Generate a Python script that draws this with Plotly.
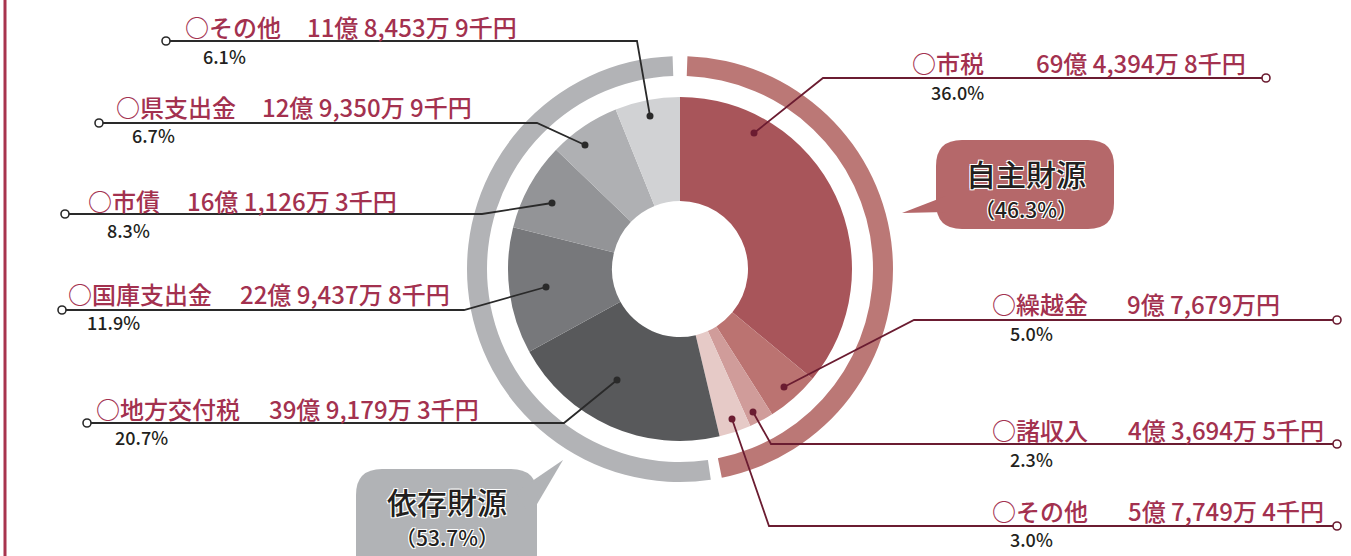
import plotly.graph_objects as go

# ---------------- data ----------------
own_names = ["市税", "繰越金", "諸収入", "その他"]
own_amounts = [6943948, 976790, 436945, 577494]          # 千円
own_pcts = [36.0, 5.0, 2.3, 3.0]
dep_names = ["地方交付税", "国庫支出金", "市債", "県支出金", "その他"]
dep_amounts = [3991793, 2294378, 1611263, 1293509, 1184539]  # 千円
dep_pcts = [20.7, 11.9, 8.3, 6.7, 6.1]
group_names = ["自主財源", "依存財源"]
group_pcts = [46.3, 53.7]

# ---------------- style ----------------
W, H = 1351, 556
FONT = "Noto Sans CJK JP"
own_colors = ["#A8555A", "#BB7371", "#D09C9A", "#E6CAC7"]
dep_colors = ["#58595B", "#77787B", "#939497", "#AFB0B3", "#D1D2D4"]
ring_colors = ["#BB7876", "#B2B3B6"]
bubble_colors = ["#B5686A", "#B1B3B6"]
label_color = "#A3314F"
pct_color = "#231F20"
line_colors = ["#6B1C31", "#2A2A2A"]

CX, CY = 680, 269          # centre in pixels (y from top)
R_IN, R_HOLE = 172, 68
R_RING, R_RING_IN = 213, 193
GAP_TOP, GAP_BOT = 4.0, 3.0

# label placement (pixel layout): name_x, amount_right_x, text_y, pct_x, pct_y,
# end circle, bend point, dot
own_layout = [
    (911, 1247, 62, 930, 92, (1266, 78), (823, 78), (754, 133)),
    (991, 1281, 303, 1009, 333, (1337, 320), (914, 320), (784, 387)),
    (991, 1325, 429, 1009, 459, (1337, 444), (771, 444), (753, 412)),
    (991, 1325, 510, 1009, 539, (1337, 526), (769, 526), (732, 419)),
]
dep_layout = [
    (95, 480, 408, 114, 437, (87, 423), (564, 423), (617, 380)),
    (67, 451, 293, 86, 322, (62, 310), (464, 310), (546, 287)),
    (87, 398, 200, 106, 230, (65, 214), (482, 214), (552, 203)),
    (115, 473, 106, 131, 135, (99, 123), (537, 123), (585, 145)),
    (184, 518, 26, 202, 56, (166, 41), (637, 41), (650, 116)),
]


def fmt_amount(v):
    oku, rest = divmod(v, 100000)
    man, sen = divmod(rest, 10)
    s = f"{oku}億 {man:,}万"
    s += f" {sen}千円" if sen else "円"
    return s


def domain(r):
    return dict(x=[(CX - r) / W, (CX + r) / W],
                y=[(H - CY - r) / H, (H - CY + r) / H])


fig = go.Figure()

# inner donut
all_names = own_names + dep_names
all_pcts = own_pcts + dep_pcts
fig.add_trace(go.Pie(
    labels=[f"{i}_{n}" for i, n in enumerate(all_names)],
    values=all_pcts,
    marker=dict(colors=own_colors + dep_colors, line=dict(width=0)),
    sort=False, direction="clockwise", rotation=0,
    hole=R_HOLE / R_IN, textinfo="none", hoverinfo="none",
    domain=domain(R_IN), showlegend=False,
))

# outer ring
red_span = group_pcts[0] / 100 * 360
gray_span = 360 - red_span - GAP_TOP - GAP_BOT
fig.add_trace(go.Pie(
    labels=["own", "gap1", "dep", "gap2"],
    values=[red_span, GAP_BOT, gray_span, GAP_TOP],
    marker=dict(colors=[ring_colors[0], "rgba(0,0,0,0)", ring_colors[1], "rgba(0,0,0,0)"],
                line=dict(width=0)),
    sort=False, direction="clockwise", rotation=GAP_TOP / 2,
    hole=R_RING_IN / R_RING, textinfo="none", hoverinfo="none",
    domain=domain(R_RING), showlegend=False,
))

shapes = []
annotations = []

# left decorative bar
shapes.append(dict(type="line", xref="x", yref="y", x0=5, x1=5, y0=0, y1=H,
                   line=dict(color="#A8344E", width=3), layer="above"))


def add_label(name, amount, pct, lay, lcolor):
    nx, ax, ty, px, py, end, bend, dot = lay
    shapes.append(dict(type="path", xref="x", yref="y", layer="above",
                       path=f"M{end[0]},{end[1]} L{bend[0]},{bend[1]} L{dot[0]},{dot[1]}",
                       line=dict(color=lcolor, width=1.8)))
    shapes.append(dict(type="circle", xref="x", yref="y", layer="above",
                       x0=end[0] - 4, x1=end[0] + 4, y0=end[1] - 4, y1=end[1] + 4,
                       fillcolor="white", line=dict(color=lcolor, width=1.6)))
    shapes.append(dict(type="circle", xref="x", yref="y", layer="above",
                       x0=dot[0] - 3.5, x1=dot[0] + 3.5, y0=dot[1] - 3.5, y1=dot[1] + 3.5,
                       fillcolor=lcolor, line=dict(color=lcolor, width=0)))
    annotations.append(dict(x=nx, y=ty, xref="x", yref="y", text="○" + name,
                            showarrow=False, xanchor="left", yanchor="middle", borderpad=0,
                            font=dict(family=FONT, size=24, color=label_color, weight=500)))
    annotations.append(dict(x=ax, y=ty, xref="x", yref="y", text=fmt_amount(amount),
                            showarrow=False, xanchor="right", yanchor="middle", borderpad=0,
                            font=dict(family=FONT, size=24, color=label_color, weight=500)))
    annotations.append(dict(x=px, y=py, xref="x", yref="y", text=f"{pct:.1f}%",
                            showarrow=False, xanchor="left", yanchor="middle", borderpad=0,
                            font=dict(family=FONT, size=18, color=pct_color, weight=500)))


for n, a, p, lay in zip(own_names, own_amounts, own_pcts, own_layout):
    add_label(n, a, p, lay, line_colors[0])
for n, a, p, lay in zip(dep_names, dep_amounts, dep_pcts, dep_layout):
    add_label(n, a, p, lay, line_colors[1])


def rounded_rect(x0, y0, x1, y1, r):
    return (f"M{x0 + r},{y0} L{x1 - r},{y0} Q{x1},{y0} {x1},{y0 + r} "
            f"L{x1},{y1 - r} Q{x1},{y1} {x1 - r},{y1} L{x0 + r},{y1} "
            f"Q{x0},{y1} {x0},{y1 - r} L{x0},{y0 + r} Q{x0},{y0} {x0 + r},{y0} Z")


# bubbles: rect, tail triangle, text centres
bubbles = [
    ((936, 140, 1114, 229), [(946, 196), (946, 212), (902, 213)], (1026, 173), (1026, 209)),
    ((356, 469, 537, 580), [(516, 492), (530, 516), (563, 460)], (447, 501), (447, 537)),
]
sh = "1px 1px 0 #fff, -1px -1px 0 #fff, 1px -1px 0 #fff, -1px 1px 0 #fff"
for (rect, tail, c1, c2), col, gname, gp in zip(bubbles, bubble_colors, group_names, group_pcts):
    shapes.append(dict(type="path", xref="x", yref="y", layer="above",
                       path=rounded_rect(*rect, 26), fillcolor=col, line=dict(width=0)))
    tp = "M" + " L".join(f"{x},{y}" for x, y in tail) + " Z"
    shapes.append(dict(type="path", xref="x", yref="y", layer="above",
                       path=tp, fillcolor=col, line=dict(width=0)))
    annotations.append(dict(x=c1[0], y=c1[1], xref="x", yref="y", text=gname,
                            showarrow=False, xanchor="center", yanchor="middle", borderpad=0,
                            font=dict(family=FONT, size=30, color="#231F20", shadow=sh, weight=500)))
    annotations.append(dict(x=c2[0], y=c2[1], xref="x", yref="y", text=f"（{gp:.1f}%）",
                            showarrow=False, xanchor="center", yanchor="middle", borderpad=0,
                            font=dict(family=FONT, size=21, color="#231F20", shadow=sh, weight=500)))

fig.update_layout(
    width=W, height=H, autosize=False,
    margin=dict(l=0, r=0, t=0, b=0, pad=0),
    paper_bgcolor="white", plot_bgcolor="white",
    xaxis=dict(range=[0, W], visible=False, fixedrange=True),
    yaxis=dict(range=[H, 0], visible=False, fixedrange=True),
    shapes=shapes, annotations=annotations, showlegend=False,
)

fig.write_html("out.html")
